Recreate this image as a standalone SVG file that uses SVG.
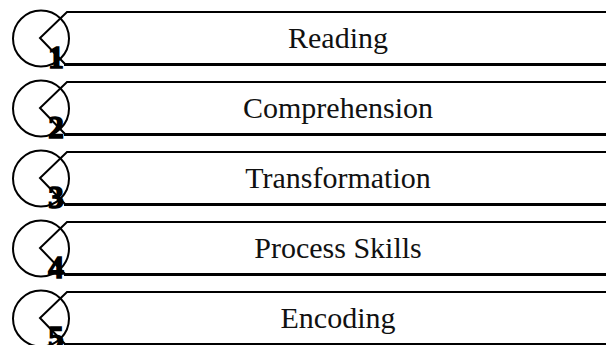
<svg xmlns="http://www.w3.org/2000/svg" width="606" height="345" viewBox="0 0 606 345">
<style>
.c{fill:none;stroke:#000;stroke-width:2}
.t{fill:none;stroke:#000;stroke-width:2}
.b{fill:none;stroke:#000;stroke-width:3}
.lbl{font-family:"Liberation Serif","Times New Roman",serif;font-size:30px;fill:#111;text-anchor:middle}
.num{font-family:"Liberation Serif","Times New Roman",serif;font-size:31px;font-weight:bold;fill:#000;stroke:#000;stroke-width:1.6;text-anchor:middle}
</style>
<defs>
<g id="shape">
<circle class="c" cx="41" cy="26.5" r="28"/>
<path class="t" d="M606 0 H67 L40 26 L65 52"/>
<path class="b" d="M64 52.5 H606"/>
</g>
</defs>
<rect width="606" height="345" fill="#fff"/>
<g id="node1" transform="translate(0,12)">
<use href="#shape"/>
<text class="lbl" x="338" y="36">Reading</text>
<text class="num" x="56" y="56">1</text>
</g>
<g id="node2" transform="translate(0,82)">
<use href="#shape"/>
<text class="lbl" x="338" y="36">Comprehension</text>
<text class="num" x="56" y="56">2</text>
</g>
<g id="node3" transform="translate(0,152)">
<use href="#shape"/>
<text class="lbl" x="338" y="36">Transformation</text>
<text class="num" x="56" y="56">3</text>
</g>
<g id="node4" transform="translate(0,222)">
<use href="#shape"/>
<text class="lbl" x="338" y="36">Process Skills</text>
<text class="num" x="56" y="56">4</text>
</g>
<g id="node5" transform="translate(0,292)">
<use href="#shape"/>
<text class="lbl" x="338" y="36">Encoding</text>
<text class="num" x="56" y="56">5</text>
</g>
<g id="connectors"></g>
</svg>
